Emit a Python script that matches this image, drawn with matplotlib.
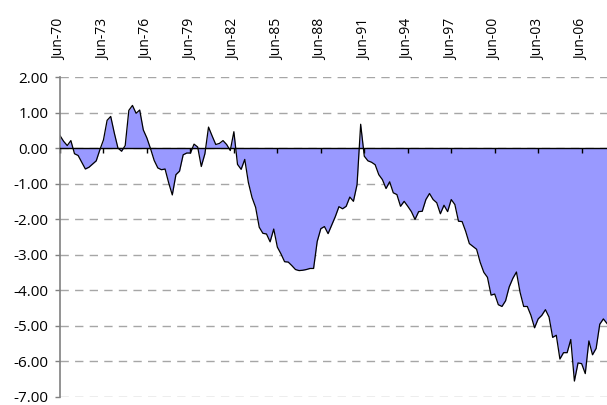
import numpy as np
import matplotlib
matplotlib.use('Agg')
import matplotlib.pyplot as plt

# %% podaci (kvartalno, Jun-70 do Mar-08)

spread = [
    0.35, 0.19, 0.07, 0.21, -0.16, -0.21, -0.40, -0.59, -0.54, -0.45,
    -0.36, -0.05, 0.23, 0.78, 0.89, 0.42, 0.00, -0.09, 0.07, 1.06,
    1.20, 0.98, 1.07, 0.51, 0.28, -0.02, -0.35, -0.56, -0.61, -0.59,
    -0.98, -1.32, -0.75, -0.65, -0.19, -0.14, -0.14, 0.11, 0.03, -0.52,
    -0.16, 0.59, 0.34, 0.10, 0.13, 0.21, 0.10, -0.07, 0.46, -0.46,
    -0.60, -0.32, -0.97, -1.39, -1.67, -2.23, -2.40, -2.42, -2.64, -2.28,
    -2.79, -2.98, -3.20, -3.21, -3.31, -3.42, -3.45, -3.44, -3.42, -3.39,
    -3.39, -2.63, -2.27, -2.21, -2.41, -2.17, -1.93, -1.65, -1.71, -1.64,
    -1.38, -1.50, -1.03, 0.67, -0.23, -0.36, -0.40, -0.47, -0.75, -0.89,
    -1.14, -0.95, -1.26, -1.31, -1.64, -1.50, -1.64, -1.79, -2.01, -1.79,
    -1.78, -1.45, -1.28, -1.45, -1.54, -1.85, -1.61, -1.79, -1.45, -1.59,
    -2.06, -2.07, -2.35, -2.69, -2.77, -2.85, -3.22, -3.50, -3.64, -4.14,
    -4.11, -4.41, -4.46, -4.30, -3.91, -3.67, -3.49, -4.06, -4.46, -4.46,
    -4.71, -5.06, -4.81, -4.71, -4.55, -4.76, -5.33, -5.27, -5.94, -5.76,
    -5.76, -5.39, -6.56, -6.05, -6.07, -6.35, -5.43, -5.82, -5.64, -4.96,
    -4.81, -4.94,
]

tick_labels = ['Jun-70', 'Jun-73', 'Jun-76', 'Jun-79', 'Jun-82', 'Jun-85',
               'Jun-88', 'Jun-91', 'Jun-94', 'Jun-97', 'Jun-00', 'Jun-03', 'Jun-06']
tick_step = 12   # kvartala izmedju oznaka (3 godine)

y_ticks = [2, 1, 0, -1, -2, -3, -4, -5, -6, -7]

# %% grafik

plt.rcParams['font.family'] = ['Open Sans', 'DejaVu Sans']
plt.rcParams['axes.unicode_minus'] = False

x = np.arange(len(spread))
y = np.array(spread)

fig = plt.figure(figsize=(6.07, 4.05), dpi=100)
ax = fig.add_axes([60 / 607, 1 - 396.7 / 405, 1 - 60 / 607, (396.7 - 77) / 405])

for v in y_ticks:
    ax.axhline(v, color='#a6a6a6', linewidth=1, linestyle=(0, (6, 4.5)), zorder=0)

ax.fill_between(x, y, 0, color='#9999ff', linewidth=0, zorder=1)
ax.plot(x, y, color='black', linewidth=0.9, zorder=2)

ax.set_xlim(0, len(spread) - 1)
ax.set_ylim(-7, 2)

ax.set_yticks(y_ticks)
ax.set_yticklabels([f'{v:.2f}' for v in y_ticks], fontsize=11)

ax.set_xticks(x[::tick_step])
ax.set_xticklabels(tick_labels, fontsize=11)

ax.spines['top'].set_visible(False)
ax.spines['right'].set_visible(False)
ax.spines['bottom'].set_position(('data', 0))
ax.spines['bottom'].set_color('black')
ax.spines['bottom'].set_linewidth(1)
ax.spines['bottom'].set_zorder(3)
ax.spines['left'].set_color('#808080')
ax.spines['left'].set_linewidth(1.2)

ax.tick_params(axis='x', bottom=True, top=False, labelbottom=False, labeltop=True,
               labelrotation=90, length=3.5, width=1, color='black', pad=9)
ax.tick_params(axis='y', length=3.5, width=1, color='#808080', pad=5)

plt.savefig('out.png', dpi=100)
